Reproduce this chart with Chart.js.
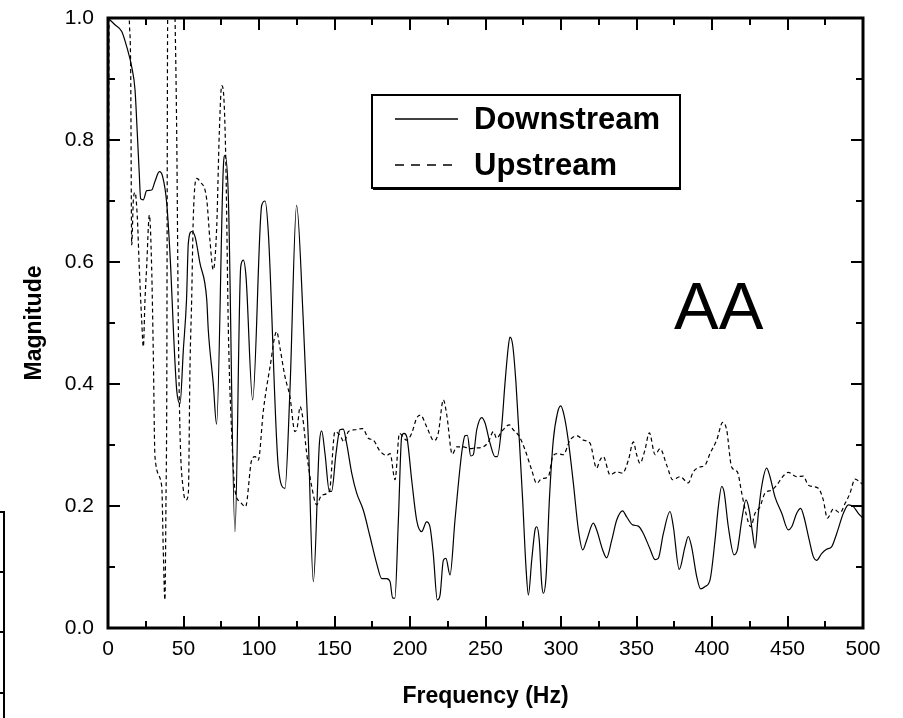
<!DOCTYPE html>
<html>
<head>
<meta charset="utf-8">
<script src="https://cdn.jsdelivr.net/npm/chart.js@4.4.1/dist/chart.umd.min.js"></script>
<style>
  html, body { margin: 0; padding: 0; background: #fff; }
  canvas { display: block; }
</style>
</head>
<body>
<canvas id="spectrum" width="903" height="718"></canvas>
<script>
// Values.
const downFreq = [0, 4.6, 9.1, 12.4, 15.7, 17.9, 19.4, 20.7, 21.6, 23.4, 25.6, 28.9, 31.1, 34, 36.2, 38.9, 41.5, 43.3, 45.5, 47.7,
    49.9, 52, 53.2, 55.4, 57.6, 60.9, 65.4, 66.4, 69.7, 71.9, 76.4, 77.5, 79.7, 84.1, 87.9, 89.6, 91.4, 95.8, 101.8, 104,
    106.2, 112.8, 117.2, 120.5, 124.9, 129.3, 132.6, 136, 140, 141.5, 143.7, 146.6, 148.1, 151, 153.6, 155.8, 158, 161.4, 164.7, 169.1,
    173.5, 177.9, 181.3, 184.5, 186.8, 188.5, 190, 192.3, 194.5, 196, 197.8, 201.1, 204.4, 207.7, 211, 213.2, 215.4, 218.1, 219.9, 222.1,
    223.8, 226.5, 229.8, 234.2, 236.4, 238, 240.2, 241.9, 244.2, 247.5, 249.7, 253, 256.3, 257.8, 260.7, 262.9, 265.1, 266.2, 268, 270.2,
    272.4, 274.6, 276.8, 278.4, 280.6, 282.8, 283.9, 285.6, 287.2, 288.3, 290.1, 292.3, 294.9, 297.6, 299.8, 302, 304.8, 308.2, 311.5, 314.4,
    317, 321.4, 323.6, 327.6, 330.2, 333.6, 336.9, 340.8, 343.5, 347.5, 351.2, 354.5, 358.9, 362.3, 364.4, 367.8, 372.2, 374.4, 378.3, 382.1,
    384.3, 386.5, 389.9, 392.5, 395.4, 398.7, 402, 404.2, 406.4, 408, 410.8, 414.6, 416.8, 419.7, 422.5, 424.7, 426.9, 428.5, 430.7, 432.9,
    436.2, 438.4, 441.7, 446.2, 450.5, 452.8, 456.1, 458.7, 460.9, 464.4, 467.1, 469.3, 472.6, 475.9, 479.2, 482.6, 487, 490.3, 493.6, 496.9, 500];
const downMag = [1.0, 0.989, 0.978, 0.953, 0.92, 0.882, 0.811, 0.745, 0.704, 0.702, 0.717, 0.718, 0.732, 0.748, 0.74, 0.696, 0.592, 0.489, 0.39, 0.368,
    0.456, 0.538, 0.631, 0.65, 0.642, 0.598, 0.538, 0.489, 0.401, 0.334, 0.756, 0.775, 0.707, 0.158, 0.592, 0.603, 0.576, 0.374, 0.693, 0.70,
    0.647, 0.264, 0.229, 0.39, 0.693, 0.505, 0.314, 0.076, 0.303, 0.323, 0.286, 0.224, 0.224, 0.286, 0.325, 0.326, 0.303, 0.254, 0.221, 0.193,
    0.15, 0.106, 0.081, 0.081, 0.076, 0.049, 0.049, 0.177, 0.314, 0.319, 0.314, 0.243, 0.177, 0.158, 0.174, 0.166, 0.122, 0.046, 0.054, 0.111,
    0.114, 0.087, 0.177, 0.286, 0.315, 0.316, 0.282, 0.284, 0.325, 0.345, 0.336, 0.303, 0.281, 0.281, 0.33, 0.401, 0.461, 0.477, 0.464, 0.401,
    0.308, 0.21, 0.1, 0.054, 0.111, 0.161, 0.166, 0.144, 0.073, 0.057, 0.084, 0.21, 0.308, 0.352, 0.364, 0.349, 0.308, 0.237, 0.161, 0.128,
    0.144, 0.172, 0.161, 0.128, 0.115, 0.144, 0.177, 0.192, 0.182, 0.169, 0.167, 0.155, 0.13, 0.112, 0.114, 0.155, 0.191, 0.166, 0.096, 0.133,
    0.15, 0.133, 0.084, 0.064, 0.068, 0.079, 0.144, 0.199, 0.232, 0.223, 0.166, 0.12, 0.128, 0.177, 0.21, 0.193, 0.155, 0.131, 0.188, 0.232,
    0.262, 0.248, 0.215, 0.188, 0.161, 0.166, 0.188, 0.196, 0.182, 0.144, 0.117, 0.111, 0.122, 0.129, 0.133, 0.155, 0.188, 0.202, 0.199, 0.188, 0.18];

// Upstream goes off the top of the plot near 0-14 Hz and 40-44 Hz.
const upFreq = [0, 1, 13.5, 14.1, 15, 15.7, 16.8, 17.9, 19.4, 20.7, 22.3, 23.4, 24.5, 25.6, 27.4, 28.9, 30, 31.1, 35.6, 36.6,
    37.7, 38.4, 38.9, 39.5, 40.5, 43.5, 44.4, 45.5, 46.6, 47.7, 49.9, 51.7, 53.2, 54.3, 55.4, 56.5, 58.7, 60.9, 65.4, 67.5,
    69.7, 72, 73.7, 75.3, 76.8, 78.1, 79.7, 81.9, 84.1, 87.4, 91.1, 95.1, 97.4, 99.5, 102.9, 107.3, 111.7, 113.9, 117.2, 120.5,
    123.8, 125.4, 127.2, 128.9, 131.6, 134.9, 138.2, 141.5, 146.6, 150.3, 153.6, 156.3, 159.2, 163.6, 168.7, 172.4, 175.7, 180.1, 184.6, 186.8,
    190.1, 193, 197.8, 201.1, 204.4, 207, 211, 215.9, 218.7, 222.1, 224.3, 228, 230.9, 235.3, 239.7, 243, 248.5, 251.9, 255.2, 257.4,
    260.7, 265.8, 268.4, 272.4, 276.2, 280.6, 283.9, 287.2, 291.6, 294.5, 297.6, 301.5, 306, 310.8, 314.8, 319.2, 323.6, 325.8, 328, 332.5,
    336.9, 340.8, 344.6, 347.9, 350.1, 352.3, 355.6, 358.5, 362.3, 365.6, 370, 374, 378.8, 384.3, 387.6, 392, 395.4, 398.7, 403.1, 407.1,
    409.7, 413, 416.8, 419.7, 422.5, 425.6, 428.5, 431.8, 435.1, 439.5, 442.8, 446.8, 450.5, 456.1, 460.5, 463.8, 470.4, 473.7, 476.4, 480.3,
    484.8, 488.1, 491.4, 494.7, 497.6, 500];
const upMag = [0.42, 1.1, 1.1, 1.0, 0.92, 0.628, 0.702, 0.714, 0.674, 0.592, 0.505, 0.461, 0.538, 0.592, 0.677, 0.592, 0.45, 0.281, 0.232, 0.128,
    0.046, 0.21, 0.374, 1.0, 1.1, 1.1, 1.0, 0.811, 0.489, 0.319, 0.226, 0.21, 0.221, 0.428, 0.538, 0.674, 0.737, 0.732, 0.702, 0.636,
    0.587, 0.658, 0.811, 0.889, 0.866, 0.756, 0.489, 0.319, 0.226, 0.207, 0.199, 0.275, 0.281, 0.275, 0.357, 0.428, 0.486, 0.459, 0.412, 0.379,
    0.322, 0.33, 0.363, 0.346, 0.286, 0.232, 0.202, 0.218, 0.224, 0.322, 0.316, 0.305, 0.322, 0.325, 0.327, 0.311, 0.308, 0.29, 0.283, 0.286,
    0.243, 0.319, 0.308, 0.319, 0.344, 0.349, 0.33, 0.307, 0.319, 0.374, 0.35, 0.285, 0.297, 0.297, 0.294, 0.295, 0.297, 0.305, 0.322, 0.311,
    0.322, 0.333, 0.325, 0.314, 0.292, 0.259, 0.237, 0.245, 0.248, 0.281, 0.286, 0.284, 0.308, 0.315, 0.308, 0.303, 0.262, 0.275, 0.281, 0.251,
    0.256, 0.254, 0.275, 0.305, 0.284, 0.27, 0.292, 0.32, 0.284, 0.294, 0.267, 0.243, 0.248, 0.238, 0.256, 0.264, 0.267, 0.286, 0.308, 0.337,
    0.325, 0.264, 0.256, 0.221, 0.188, 0.166, 0.188, 0.199, 0.221, 0.226, 0.234, 0.248, 0.255, 0.248, 0.249, 0.234, 0.229, 0.21, 0.18, 0.195,
    0.189, 0.204, 0.221, 0.244, 0.24, 0.235];

const seriesNames = ["Downstream", "Upstream"];
const xTickStep = 50;
const yTickStep = 0.2;

const FONT = "'Liberation Sans', Arial, Helvetica, sans-serif";

function toPoints(xs, ys) {
    return xs.map((x, i) => ({ x: x, y: ys[i] }));
}

// Frame, inward major/minor ticks on all four sides, legend box and the "AA" tag.
const decorations = {
    id: "decorations",
    afterDraw(chart) {
        const ctx = chart.ctx;
        const area = chart.chartArea;
        const xs = chart.scales.x;
        const ys = chart.scales.y;

        ctx.save();
        ctx.strokeStyle = "#000";

        // ticks
        ctx.lineWidth = 2;
        ctx.beginPath();
        for (let v = xs.min; v <= xs.max + 1e-6; v += xTickStep / 2) {
            const px = Math.round(xs.getPixelForValue(v));
            const len = (Math.round(v) % xTickStep === 0) ? 12 : 7;
            ctx.moveTo(px, area.bottom);
            ctx.lineTo(px, area.bottom - len);
            ctx.moveTo(px, area.top);
            ctx.lineTo(px, area.top + len);
        }
        for (let i = 0; i <= Math.round((ys.max - ys.min) / (yTickStep / 2)); i++) {
            const py = Math.round(ys.getPixelForValue(ys.min + i * yTickStep / 2));
            const len = (i % 2 === 0) ? 12 : 7;
            ctx.moveTo(area.left, py);
            ctx.lineTo(area.left + len, py);
            ctx.moveTo(area.right, py);
            ctx.lineTo(area.right - len, py);
        }
        ctx.stroke();

        // frame
        ctx.lineWidth = 3;
        ctx.strokeRect(area.left, area.top, area.right - area.left, area.bottom - area.top);

        // edge of the neighbouring panel, cut off at the left border
        ctx.lineWidth = 2;
        ctx.beginPath();
        ctx.moveTo(0, 512);
        ctx.lineTo(4, 512);
        ctx.lineTo(4, 718);
        [572, 632, 693].forEach(y => {
            ctx.moveTo(0, y);
            ctx.lineTo(4, y);
        });
        ctx.stroke();

        // legend
        ctx.lineWidth = 2;
        ctx.strokeRect(372, 95, 308, 93);
        ctx.beginPath();
        ctx.moveTo(680, 96);
        ctx.lineTo(680, 189);
        ctx.lineTo(373, 189);
        ctx.stroke();

        const rows = [119, 165];
        chart.data.datasets.forEach((ds, i) => {
            ctx.lineWidth = 1.5;
            ctx.setLineDash(ds.borderDash.length ? [9, 7] : []);
            ctx.beginPath();
            ctx.moveTo(395, rows[i]);
            ctx.lineTo(458, rows[i]);
            ctx.stroke();
            ctx.setLineDash([]);

            ctx.fillStyle = "#000";
            ctx.font = "bold 31px " + FONT;
            ctx.textBaseline = "middle";
            ctx.textAlign = "left";
            ctx.fillText(ds.label, 474, rows[i] + 1);
        });

        ctx.font = "67px " + FONT;
        ctx.textBaseline = "alphabetic";
        ctx.fillText("AA", 674, 329);

        ctx.restore();
    }
};

new Chart(
    document.getElementById("spectrum"),
    {
        type: "line",
        data: {
            datasets: [{
                label: seriesNames[0],
                data: toPoints(downFreq, downMag),
                borderColor: "#000",
                borderWidth: 1.2,
                borderDash: [],
                pointRadius: 0,
                cubicInterpolationMode: "monotone",
                fill: false
            },
            {
                label: seriesNames[1],
                data: toPoints(upFreq, upMag),
                borderColor: "#000",
                borderWidth: 1.2,
                borderDash: [4, 3],
                pointRadius: 0,
                cubicInterpolationMode: "monotone",
                fill: false
            }]
        },
        options: {
            responsive: false,
            animation: false,
            devicePixelRatio: 1,
            layout: {
                padding: { left: 0, right: 40, top: 18, bottom: 0 }
            },
            plugins: {
                legend: { display: false },
                tooltip: { enabled: false }
            },
            scales: {
                x: {
                    type: "linear",
                    min: 0,
                    max: 500,
                    afterFit: (scale) => {
                        scale.height = 90;
                        scale.paddingLeft = 0;
                        scale.paddingRight = 0;
                    },
                    grid: { display: false, drawTicks: false },
                    border: { display: false },
                    ticks: {
                        stepSize: xTickStep,
                        padding: 9,
                        color: "#000",
                        maxRotation: 0,
                        font: { family: FONT, size: 21 }
                    },
                    title: {
                        display: true,
                        text: "Frequency (Hz)",
                        color: "#000",
                        font: { family: FONT, size: 23, weight: "bold" },
                        padding: { top: 0, bottom: 8 }
                    }
                },
                y: {
                    min: 0,
                    max: 1,
                    afterFit: (scale) => {
                        scale.width = 108;
                        scale.paddingTop = 0;
                        scale.paddingBottom = 0;
                    },
                    grid: { display: false, drawTicks: false },
                    border: { display: false },
                    ticks: {
                        stepSize: yTickStep,
                        padding: 14,
                        color: "#000",
                        font: { family: FONT, size: 21 },
                        callback: (v) => v.toFixed(1)
                    },
                    title: {
                        display: true,
                        text: "Magnitude",
                        color: "#000",
                        font: { family: FONT, size: 23, weight: "bold" },
                        padding: { top: 21, bottom: 0 }
                    }
                }
            }
        },
        plugins: [decorations]
    }
);
</script>
</body>
</html>
